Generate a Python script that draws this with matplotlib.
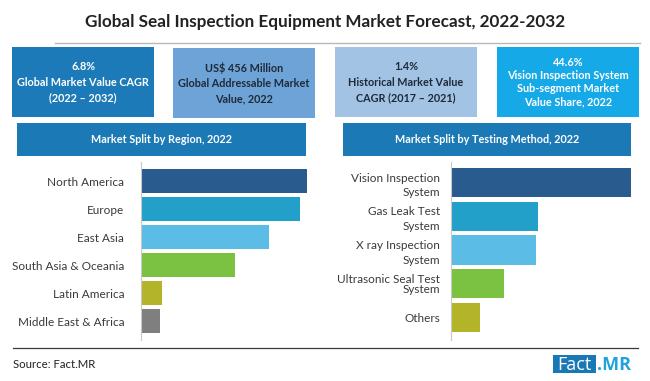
import matplotlib
matplotlib.use("Agg")
import matplotlib.pyplot as plt
from matplotlib.patches import Rectangle
from matplotlib.lines import Line2D

W, H = 650, 381

title = "Global Seal Inspection Equipment Market Forecast, 2022-2032"

kpi_texts = [
    "6.8%\nGlobal Market Value CAGR\n(2022 \u2013 2032)",
    "US$ 456 Million\nGlobal Addressable Market\nValue, 2022",
    "1.4%\nHistorical Market Value\nCAGR (2017 \u2013 2021)",
    "44.6%\nVision Inspection System\nSub-segment Market\nValue Share, 2022",
]

region_title = "Market Split by Region, 2022"
regions = ["North America", "Europe", "East Asia", "South Asia & Oceania",
           "Latin America", "Middle East & Africa"]
region_values = [29.6, 28.4, 22.9, 16.7, 3.8, 3.3]

method_title = "Market Split by Testing Method, 2022"
methods = ["Vision Inspection\nSystem", "Gas Leak Test\nSystem", "X ray Inspection\nSystem",
           "Ultrasonic Seal Test\nSystem", "Others"]
method_values = [44.6, 21.7, 21.1, 13.2, 7.2]

source_text = "Source: Fact.MR"

# styles
FONT = "Lato"
region_colors = ["#2a5b8e", "#23a0c9", "#5bbce6", "#7bc142", "#b4b42a", "#7f7f7f"]
method_colors = ["#2a5b8e", "#23a0c9", "#5bbce6", "#7bc142", "#b4b42a"]
box_colors = ["#1b7ab7", "#6ea3d7", "#a3c3e4", "#16a9e8"]
box_text_colors = ["white", "#1e2a38", "#1e2a38", "white"]
box_linespacing = [1.5, 1.5, 1.5, 1.25]
header_color = "#1b79b5"
label_color = "#3a3a3a"

fig = plt.figure(figsize=(W / 100, H / 100), dpi=100)
fig.patch.set_facecolor("white")


def fx(x):
    return x / W


def fy(y):
    return 1 - y / H


def rect_px(x0, y0, x1, y1, color):
    fig.patches.append(Rectangle((fx(x0), fy(y1)), fx(x1) - fx(x0), fy(y0) - fy(y1),
                                 transform=fig.transFigure, facecolor=color,
                                 edgecolor="none", zorder=1))


# title
fig.text(fx(325), fy(22), title, ha="center", va="center", fontsize=12.3,
         fontweight="bold", color="#222222", family=FONT)
fig.lines.append(Line2D([fx(55), fx(640)], [fy(43), fy(43)], transform=fig.transFigure,
                        color="#b8b8b8", lw=1))

# KPI boxes
boxes = [(12, 47, 154, 117), (173, 48, 315, 118), (335, 47, 477, 117), (497, 47, 639, 117)]
for (x0, y0, x1, y1), txt, c, tc, ls in zip(boxes, kpi_texts, box_colors, box_text_colors,
                                            box_linespacing):
    rect_px(x0, y0, x1, y1, c)
    fig.text(fx((x0 + x1) / 2), fy((y0 + y1) / 2), txt, ha="center", va="center",
             fontsize=7.85, fontweight="bold", color=tc, family=FONT, linespacing=ls)

# header bars
rect_px(17, 123, 306, 156, header_color)
fig.text(fx(161.5), fy(140), region_title, ha="center", va="center", fontsize=7.8,
         fontweight="bold", color="white", family=FONT)
rect_px(343, 123, 631, 156, header_color)
fig.text(fx(487), fy(140), method_title, ha="center", va="center", fontsize=7.8,
         fontweight="bold", color="white", family=FONT)


def axes_px(x0, y0, x1, y1):
    return fig.add_axes([fx(x0), fy(y1), fx(x1) - fx(x0), fy(y0) - fy(y1)])


# left chart
axL = axes_px(141, 162, 307, 340)
ypos = list(range(len(regions)))
axL.barh(ypos, region_values, height=0.857, color=region_colors)
axL.set_xlim(0, max(region_values))
axL.set_ylim(5 + 19 / 28, -19 / 28)
axL.set_yticks(ypos)
axL.set_yticklabels(regions, fontsize=8.5, color=label_color, family=FONT)
axL.tick_params(axis="y", length=0, pad=16.7 * 0.72)
axL.set_xticks([])
for s in ["top", "right", "bottom"]:
    axL.spines[s].set_visible(False)
axL.spines["left"].set_color("#c8c8c8")
axL.spines["left"].set_linewidth(0.8)
axL.patch.set_alpha(0)

# right chart
axR = axes_px(450.7, 162, 630.7, 340)
ypos2 = list(range(len(methods)))
axR.barh(ypos2, method_values, height=0.86, color=method_colors)
axR.set_xlim(0, max(method_values))
axR.set_ylim(4 + 22.5 / 33.75, -20.5 / 33.75)
axR.set_yticks(ypos2)
axR.set_yticklabels(methods, fontsize=8.5, color=label_color, family=FONT)
axR.tick_params(axis="y", length=0, pad=10.7 * 0.72)
for i, lab in enumerate(axR.get_yticklabels()):
    lab.set_multialignment("right")
    lab.set_linespacing(0.95 if i == 3 else 1.4)
axR.set_xticks([])
for s in ["top", "right", "bottom"]:
    axR.spines[s].set_visible(False)
axR.spines["left"].set_color("#c8c8c8")
axR.spines["left"].set_linewidth(0.8)
axR.patch.set_alpha(0)

# footer
fig.lines.append(Line2D([fx(13), fx(638)], [fy(347.5), fy(347.5)], transform=fig.transFigure,
                        color="#3a3a3a", lw=0.9))
fig.text(fx(13), fy(364), source_text, ha="left", va="center", fontsize=8.2,
         color="#222222", family=FONT)
rect_px(553, 355, 596, 373, "#1a78b5")
fig.text(fx(574.5), fy(364.5), "Fact", ha="center", va="center", fontsize=13,
         color="white", family="Open Sans")
fig.text(fx(597), fy(364.5), ".MR", ha="left", va="center", fontsize=13,
         fontweight="bold", color="#1ea3df", family="Open Sans")

fig.savefig("out.png", dpi=100, facecolor="white")
